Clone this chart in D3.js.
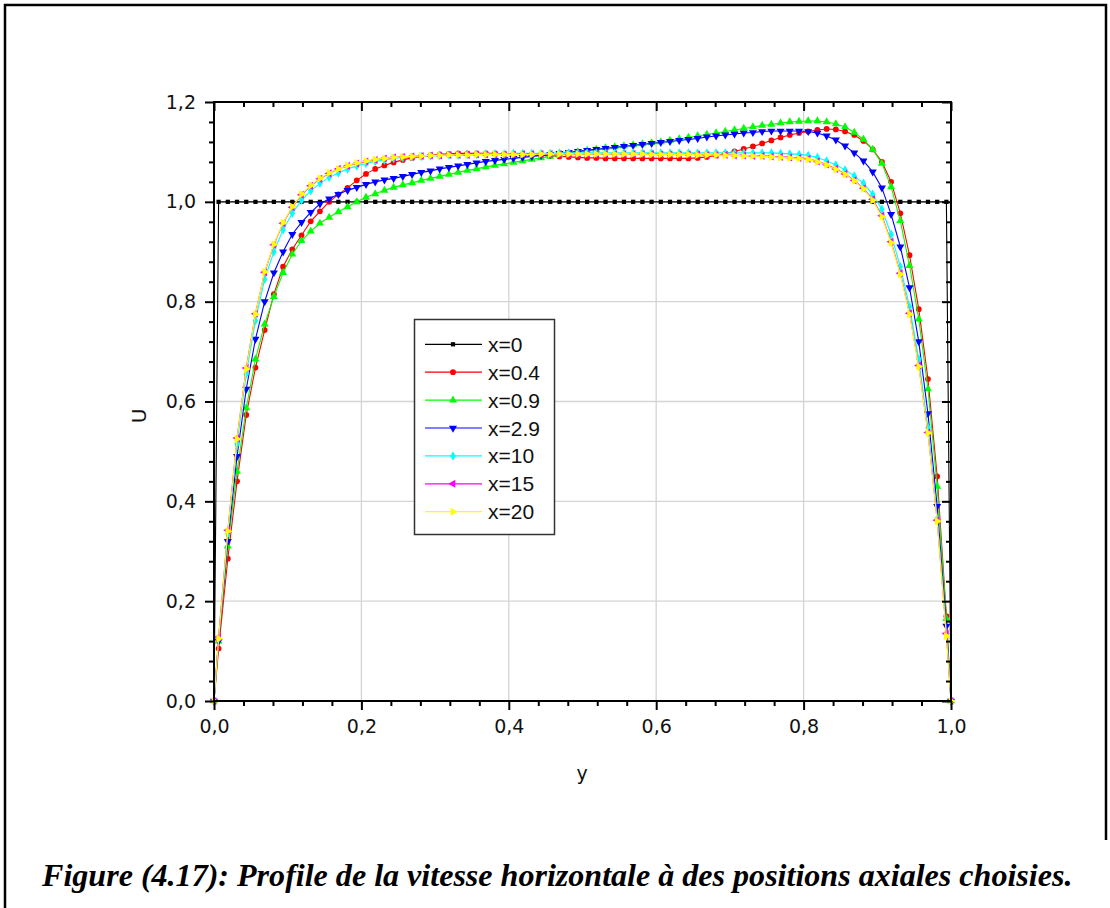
<!DOCTYPE html>
<html>
<head>
<meta charset="utf-8">
<script src="https://cdn.jsdelivr.net/npm/d3@7/dist/d3.min.js"></script>
<style>
html,body{margin:0;padding:0;background:#fff;}
svg{display:block;}
</style>
</head>
<body>
<svg id="chart" width="1110" height="908"></svg>
<script>
// ---- data ----
const yGrid = [0,
 0.00625,0.01875,0.03125,0.04375,0.05625,0.06875,0.08125,0.09375,0.10625,0.11875,
 0.13125,0.14375,0.15625,0.16875,0.18125,0.19375,0.20625,0.21875,0.23125,0.24375,
 0.25625,0.26875,0.28125,0.29375,0.30625,0.31875,0.33125,0.34375,0.35625,0.36875,
 0.38125,0.39375,0.40625,0.41875,0.43125,0.44375,0.45625,0.46875,0.48125,0.49375,
 0.50625,0.51875,0.53125,0.54375,0.55625,0.56875,0.58125,0.59375,0.60625,0.61875,
 0.63125,0.64375,0.65625,0.66875,0.68125,0.69375,0.70625,0.71875,0.73125,0.74375,
 0.75625,0.76875,0.78125,0.79375,0.80625,0.81875,0.83125,0.84375,0.85625,0.86875,
 0.88125,0.89375,0.90625,0.91875,0.93125,0.94375,0.95625,0.96875,0.98125,0.99375,
 1];

const u_x0 = [0,
 1,1,1,1,1,1,1,1,1,1,
 1,1,1,1,1,1,1,1,1,1,
 1,1,1,1,1,1,1,1,1,1,
 1,1,1,1,1,1,1,1,1,1,
 1,1,1,1,1,1,1,1,1,1,
 1,1,1,1,1,1,1,1,1,1,
 1,1,1,1,1,1,1,1,1,1,
 1,1,1,1,1,1,1,1,1,1,
 0];

const u_x04 = [0,
 0.105,0.285,0.44,0.573,0.668,0.743,0.815,0.87,0.905,0.933,
 0.961,0.981,1.000,1.015,1.028,1.043,1.056,1.066,1.073,1.079,
 1.084,1.088,1.091,1.093,1.095,1.096,1.097,1.097,1.097,1.097,
 1.097,1.096,1.096,1.095,1.094,1.093,1.092,1.091,1.090,1.089,
 1.088,1.088,1.087,1.087,1.087,1.087,1.087,1.087,1.087,1.087,
 1.087,1.087,1.088,1.090,1.093,1.097,1.101,1.106,1.111,1.117,
 1.123,1.129,1.134,1.138,1.141,1.144,1.146,1.145,1.141,1.134,
 1.122,1.105,1.08,1.04,0.977,0.893,0.785,0.645,0.45,0.17,
 0];

const u_x09 = [0,
 0.12,0.31,0.46,0.587,0.685,0.755,0.81,0.858,0.895,0.922,
 0.941,0.957,0.969,0.980,0.990,1.000,1.009,1.016,1.023,1.029,
 1.034,1.038,1.043,1.047,1.051,1.055,1.059,1.063,1.066,1.070,
 1.073,1.076,1.079,1.082,1.085,1.088,1.091,1.094,1.097,1.100,
 1.103,1.105,1.108,1.110,1.112,1.114,1.116,1.118,1.120,1.123,
 1.126,1.129,1.132,1.135,1.138,1.141,1.144,1.147,1.150,1.153,
 1.155,1.158,1.160,1.161,1.162,1.162,1.160,1.156,1.150,1.139,
 1.125,1.105,1.077,1.03,0.962,0.872,0.765,0.625,0.43,0.165,
 0];

const u_x29 = [0,
 0.12,0.32,0.49,0.625,0.725,0.80,0.858,0.90,0.935,0.959,
 0.979,0.996,1.006,1.015,1.023,1.029,1.035,1.040,1.044,1.047,
 1.051,1.055,1.059,1.062,1.066,1.069,1.072,1.075,1.078,1.081,
 1.083,1.085,1.087,1.089,1.091,1.093,1.095,1.097,1.099,1.101,
 1.103,1.105,1.107,1.109,1.111,1.113,1.115,1.117,1.119,1.121,
 1.123,1.125,1.127,1.130,1.132,1.134,1.136,1.138,1.139,1.141,
 1.142,1.142,1.142,1.142,1.141,1.138,1.132,1.124,1.112,1.098,
 1.082,1.06,1.028,0.975,0.91,0.828,0.72,0.576,0.39,0.15,
 0];

const u_x10 = [0,
 0.125,0.335,0.515,0.655,0.762,0.845,0.90,0.944,0.977,1.003,
 1.022,1.037,1.049,1.058,1.066,1.072,1.077,1.081,1.084,1.087,
 1.089,1.090,1.091,1.092,1.093,1.094,1.094,1.095,1.095,1.096,
 1.096,1.096,1.097,1.097,1.097,1.097,1.097,1.098,1.098,1.098,
 1.098,1.098,1.098,1.098,1.098,1.098,1.098,1.098,1.098,1.098,
 1.098,1.098,1.098,1.098,1.098,1.098,1.098,1.098,1.098,1.098,
 1.098,1.097,1.096,1.095,1.093,1.089,1.082,1.074,1.064,1.052,
 1.037,1.015,0.985,0.935,0.87,0.79,0.685,0.548,0.365,0.135,
 0];

const u_x15 = [0,
 0.128,0.342,0.527,0.667,0.776,0.859,0.914,0.957,0.989,1.014,
 1.032,1.046,1.057,1.066,1.072,1.077,1.081,1.084,1.087,1.089,
 1.090,1.091,1.092,1.093,1.093,1.094,1.094,1.094,1.095,1.095,
 1.095,1.095,1.095,1.096,1.096,1.096,1.096,1.096,1.096,1.096,
 1.096,1.096,1.096,1.096,1.096,1.096,1.096,1.096,1.095,1.095,
 1.095,1.095,1.095,1.094,1.094,1.094,1.093,1.093,1.092,1.092,
 1.091,1.090,1.089,1.088,1.086,1.081,1.075,1.066,1.056,1.043,
 1.027,1.005,0.972,0.92,0.857,0.777,0.672,0.538,0.362,0.135,
 0];

const u_x20 = [0,
 0.125,0.34,0.525,0.665,0.775,0.86,0.915,0.958,0.99,1.015,
 1.033,1.047,1.058,1.066,1.073,1.078,1.082,1.085,1.087,1.089,
 1.090,1.091,1.092,1.093,1.093,1.094,1.094,1.094,1.095,1.095,
 1.095,1.095,1.095,1.095,1.095,1.096,1.096,1.096,1.096,1.096,
 1.096,1.096,1.096,1.096,1.096,1.096,1.096,1.095,1.095,1.095,
 1.095,1.095,1.094,1.094,1.094,1.093,1.093,1.092,1.092,1.091,
 1.090,1.089,1.088,1.087,1.085,1.080,1.074,1.065,1.055,1.042,
 1.026,1.003,0.97,0.918,0.855,0.775,0.67,0.537,0.36,0.13,
 0];

const seriesNames = ["x=0","x=0.4","x=0.9","x=2.9","x=10","x=15","x=20"];
const seriesValues = [u_x0,u_x04,u_x09,u_x29,u_x10,u_x15,u_x20];
const seriesColors = ["#000000","#ff0000","#00ff00","#0000ff","#00ffff","#ff00ff","#ffff00"];
const seriesMarkers = ["square","circle","triUp","triDown","diamond","triLeft","triRight"];

const xTicks = [0,0.2,0.4,0.6,0.8,1.0];
const yTicks = [0,0.2,0.4,0.6,0.8,1.0,1.2];
const xLabel = "y";
const yLabel = "U";
const caption = "Figure (4.17): Profile de la vitesse horizontale à des positions axiales choisies.";

// ---- layout ----
const svg = d3.select("#chart");
const L = 214, R = 951, T = 102, B = 701;
const x = d3.scaleLinear().domain([0,1]).range([L,R]);
const y = d3.scaleLinear().domain([0,1.2]).range([B,T]);
const fmt = v => d3.format(".1f")(v).replace(".", ",");

// outer frame
svg.append("path").attr("d","M5,908 L5,5 L1106,5 L1106,840")
  .attr("fill","none").attr("stroke","#000").attr("stroke-width",2.5);

// major grid
const grid = svg.append("g");
grid.selectAll(".gx").data(xTicks.slice(1,-1)).join("line")
  .attr("x1",d=>x(d)).attr("x2",d=>x(d)).attr("y1",T).attr("y2",B)
  .attr("stroke","#d4d4d4").attr("stroke-width",1.3);
grid.selectAll(".gy").data(yTicks.slice(1,-1)).join("line")
  .attr("y1",d=>y(d)).attr("y2",d=>y(d)).attr("x1",L).attr("x2",R)
  .attr("stroke","#d4d4d4").attr("stroke-width",1.3);

// minor ticks values
const minorX = d3.range(0,1.0001,0.04).filter(v=>Math.abs(v*5-Math.round(v*5))>1e-6);
const minorY = d3.range(0,1.2001,0.04).filter(v=>Math.abs(v*5-Math.round(v*5))>1e-6);

// series
const symbolFor = {
  square: d3.symbol().type(d3.symbolSquare).size(18),
  circle: d3.symbol().type(d3.symbolCircle).size(26),
  triUp: d3.symbol().type(d3.symbolTriangle).size(28),
  triDown: d3.symbol().type(d3.symbolTriangle).size(28),
  diamond: d3.symbol().type(d3.symbolDiamond).size(26),
  triLeft: d3.symbol().type(d3.symbolTriangle).size(28),
  triRight: d3.symbol().type(d3.symbolTriangle).size(28)
};
const rotFor = {square:0,circle:0,triUp:0,triDown:180,diamond:0,triLeft:-90,triRight:90};

const line = d3.line().x(d=>x(d[0])).y(d=>y(d[1]));
const plot = svg.append("g");
seriesValues.forEach((vals,i)=>{
  const pts = yGrid.map((g,k)=>[g,vals[k]]);
  const g = plot.append("g");
  g.append("path").attr("d",line(pts)).attr("fill","none")
    .attr("stroke",seriesColors[i]).attr("stroke-width",1.1);
  g.selectAll("path.m").data(pts).join("path").attr("class","m")
    .attr("d",symbolFor[seriesMarkers[i]]())
    .attr("transform",d=>`translate(${x(d[0])},${y(d[1])}) rotate(${rotFor[seriesMarkers[i]]})`)
    .attr("fill",seriesColors[i]);
});

// axes
const tickFont = "DejaVu Sans, sans-serif";
function styleAxis(g){
  g.select(".domain").remove();
  g.selectAll("line").attr("stroke","#000").attr("stroke-width",2);
  g.selectAll("text").attr("font-family",tickFont).attr("font-size",19).attr("fill","#111");
}
svg.append("g").attr("transform",`translate(0,${B})`)
  .call(d3.axisBottom(x).tickValues(xTicks).tickFormat(fmt).tickSize(9).tickPadding(10)).call(styleAxis);
svg.append("g").attr("transform",`translate(0,${B})`)
  .call(d3.axisBottom(x).tickValues(minorX).tickFormat("").tickSize(5)).call(styleAxis);
svg.append("g").attr("transform",`translate(${L},0)`)
  .call(d3.axisLeft(y).tickValues(yTicks).tickFormat(fmt).tickSize(9).tickPadding(9)).call(styleAxis);
svg.append("g").attr("transform",`translate(${L},0)`)
  .call(d3.axisLeft(y).tickValues(minorY).tickFormat("").tickSize(5)).call(styleAxis);
// top (inward)
svg.append("g").attr("transform",`translate(0,${T})`)
  .call(d3.axisTop(x).tickValues(xTicks).tickFormat("").tickSize(-9)).call(styleAxis);
svg.append("g").attr("transform",`translate(0,${T})`)
  .call(d3.axisTop(x).tickValues(minorX).tickFormat("").tickSize(-5)).call(styleAxis);
// right (inward)
svg.append("g").attr("transform",`translate(${R},0)`)
  .call(d3.axisRight(y).tickValues(yTicks).tickFormat("").tickSize(-9)).call(styleAxis);
svg.append("g").attr("transform",`translate(${R},0)`)
  .call(d3.axisRight(y).tickValues(minorY).tickFormat("").tickSize(-5)).call(styleAxis);

// plot frame
svg.append("rect").attr("x",L).attr("y",T).attr("width",R-L).attr("height",B-T)
  .attr("fill","none").attr("stroke","#000").attr("stroke-width",2);

// axis labels
svg.append("text").attr("x",582).attr("y",780).attr("text-anchor","middle")
  .attr("font-family",tickFont).attr("font-size",19).attr("fill","#111").text(xLabel);
svg.append("text").attr("transform","translate(146,416) rotate(-90)").attr("text-anchor","middle")
  .attr("font-family",tickFont).attr("font-size",20).attr("fill","#111").text(yLabel);

// legend
const lg = svg.append("g");
lg.append("rect").attr("x",414.5).attr("y",319.5).attr("width",140).attr("height",215)
  .attr("fill","#fff").attr("stroke","#333").attr("stroke-width",1.5);
seriesNames.forEach((n,i)=>{
  const cy = 344.3 + i*27.9;
  lg.append("line").attr("x1",425).attr("x2",482).attr("y1",cy).attr("y2",cy)
    .attr("stroke",seriesColors[i]).attr("stroke-width",1.2);
  lg.append("path").attr("d",symbolFor[seriesMarkers[i]]())
    .attr("transform",`translate(453,${cy}) rotate(${rotFor[seriesMarkers[i]]})`)
    .attr("fill",seriesColors[i]);
  lg.append("text").attr("x",488).attr("y",cy+7.5)
    .attr("font-family","Liberation Sans, Arial, sans-serif").attr("font-size",21)
    .attr("fill","#111").text(n);
});

// caption
const cap = svg.append("text").attr("x",42).attr("y",886)
  .attr("font-family","Liberation Serif, Times New Roman, serif")
  .attr("font-weight","bold").attr("font-style","italic").attr("font-size",25)
  .attr("fill","#000").text(caption);
const w = cap.node().getComputedTextLength();
cap.attr("font-size", 25*1031/w);
</script>
</body>
</html>
